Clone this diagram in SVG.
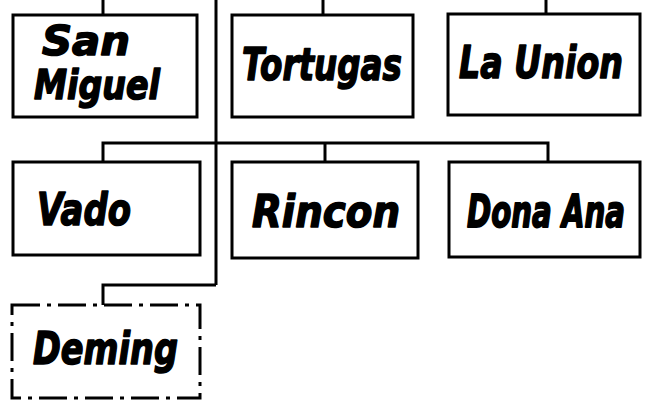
<svg xmlns="http://www.w3.org/2000/svg" width="651" height="411" viewBox="0 0 651 411">
<style>
.box{fill:#fff;stroke:#000;stroke-width:3}
.dash{fill:#fff;stroke:#000;stroke-width:3;stroke-dasharray:28 7 4 7}
.ln{fill:none;stroke:#000;stroke-width:3}
.t{font-family:"DejaVu Sans",sans-serif;font-weight:bold;font-style:italic;font-size:36px;fill:#000;stroke:#000;stroke-width:1.3;stroke-linejoin:round}
.s{font-size:33px}
.n{font-size:30px}
</style>
<rect width="651" height="411" fill="#fff"/>
<g id="connectors">
<path class="ln" d="M216,0 V285"/>
<path class="ln" d="M103,0 V15"/>
<path class="ln" d="M323,0 V15"/>
<path class="ln" d="M546,0 V14"/>
<path class="ln" d="M103,162 V143 H548 V162"/>
<path class="ln" d="M325,143 V162"/>
<path class="ln" d="M103,305 V285 H216"/>
</g>
<g id="san-miguel">
<rect class="box" x="13" y="15" width="184" height="102"/>
<text class="t s" transform="translate(42,55) scale(1,1.25)" textLength="88" lengthAdjust="spacingAndGlyphs">San</text>
<text class="t s" transform="translate(34,99) scale(1,1.25)" textLength="126" lengthAdjust="spacingAndGlyphs">Miguel</text>
</g>
<g id="tortugas">
<rect class="box" x="232" y="15" width="181" height="102"/>
<text class="t" transform="translate(242,80) scale(1,1.22)" textLength="160" lengthAdjust="spacingAndGlyphs">Tortugas</text>
</g>
<g id="la-union">
<rect class="box" x="448" y="14" width="192" height="101"/>
<text class="t" transform="translate(459,78) scale(1,1.22)" textLength="164" lengthAdjust="spacingAndGlyphs">La Union</text>
</g>
<g id="vado">
<rect class="box" x="13" y="162" width="187" height="93"/>
<text class="t" transform="translate(37,225) scale(1,1.22)" textLength="94" lengthAdjust="spacingAndGlyphs">Vado</text>
</g>
<g id="rincon">
<rect class="box" x="232" y="162" width="186" height="96"/>
<text class="t" transform="translate(252,227) scale(1,1.22)" textLength="148" lengthAdjust="spacingAndGlyphs">Rincon</text>
</g>
<g id="dona-ana">
<rect class="box" x="449" y="162" width="191" height="95"/>
<text class="t n" transform="translate(467,227) scale(1,1.46)" textLength="158" lengthAdjust="spacingAndGlyphs">Dona Ana</text>
</g>
<g id="deming">
<rect class="dash" x="12" y="305" width="188" height="93"/>
<text class="t" transform="translate(33,364) scale(1,1.22)" textLength="145" lengthAdjust="spacingAndGlyphs">Deming</text>
</g>
</svg>
